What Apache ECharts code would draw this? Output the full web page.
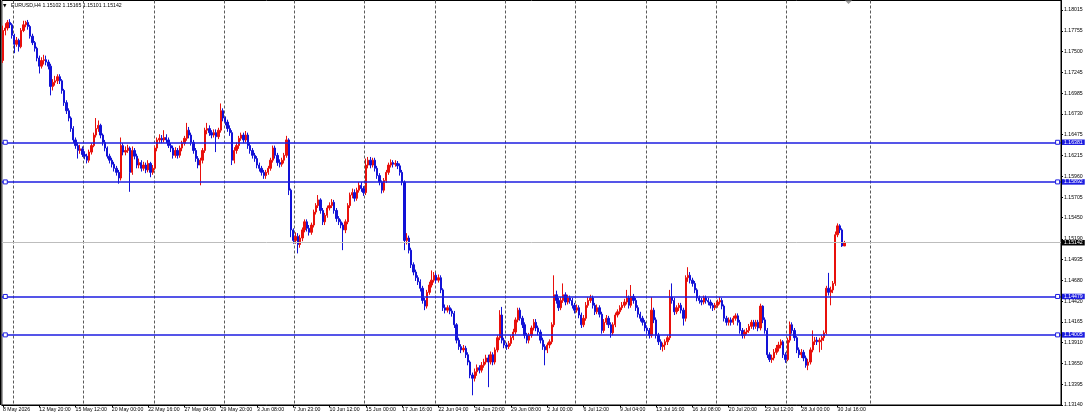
<!DOCTYPE html>
<html><head><meta charset="utf-8">
<script src="https://cdn.jsdelivr.net/npm/echarts@6/dist/echarts.min.js"></script>
<style>html,body{margin:0;padding:0;background:#fff}#c{width:1089px;height:415px}</style>
</head><body><div id="c"></div>
<script>
const symbolName = 'EURUSD,H4';
const lastBar = { open: 1.15102, high: 1.15165, low: 1.15101, close: 1.15142 };
const firstOpen = 1.1739;

const closes = [
1.1776,1.1779,1.1786,1.1783,1.1770,1.1759,1.1764,1.1756,1.1776,1.1783,
1.1786,1.1781,1.1769,1.1761,1.1754,1.1742,1.1732,1.1739,1.1740,1.1737,
1.1732,1.1707,1.1712,1.1714,1.1719,1.1714,1.1702,1.1687,1.1677,1.1668,
1.1655,1.1641,1.1634,1.1628,1.1630,1.1623,1.1621,1.1616,1.1626,1.1634,
1.1647,1.1655,1.1659,1.1647,1.1638,1.1631,1.1621,1.1616,1.1611,1.1606,
1.1601,1.1594,1.1634,1.1626,1.1628,1.1631,1.1601,1.1628,1.1621,1.1610,
1.1613,1.1606,1.1610,1.1604,1.1612,1.1601,1.1606,1.1631,1.1641,1.1643,
1.1641,1.1644,1.1641,1.1634,1.1631,1.1622,1.1628,1.1622,1.1631,1.1637,
1.1643,1.1653,1.1647,1.1638,1.1628,1.1618,1.1610,1.1616,1.1628,1.1653,
1.1655,1.1650,1.1647,1.1650,1.1645,1.1653,1.1677,1.1668,1.1663,1.1655,
1.1650,1.1616,1.1628,1.1634,1.1643,1.1647,1.1641,1.1647,1.1634,1.1628,
1.1622,1.1618,1.1610,1.1606,1.1601,1.1597,1.1601,1.1606,1.1616,1.1631,
1.1622,1.1613,1.1611,1.1616,1.1622,1.1641,1.1579,1.1530,1.1517,1.1522,
1.1512,1.1520,1.1530,1.1540,1.1532,1.1527,1.1536,1.1552,1.1560,1.1567,
1.1554,1.1540,1.1548,1.1557,1.1560,1.1564,1.1554,1.1544,1.1540,1.1536,
1.1530,1.1540,1.1560,1.1573,1.1576,1.1569,1.1579,1.1585,1.1581,1.1576,
1.1610,1.1616,1.1610,1.1616,1.1606,1.1597,1.1589,1.1579,1.1591,1.1601,
1.1610,1.1613,1.1611,1.1612,1.1609,1.1601,1.1589,1.1517,1.1520,1.1505,
1.1487,1.1478,1.1471,1.1466,1.1458,1.1443,1.1436,1.1453,1.1462,1.1468,
1.1474,1.1468,1.1471,1.1456,1.1434,1.1431,1.1434,1.1430,1.1427,1.1413,
1.1394,1.1386,1.1382,1.1384,1.1376,1.1367,1.1351,1.1347,1.1355,1.1360,
1.1357,1.1363,1.1367,1.1372,1.1367,1.1376,1.1367,1.1382,1.1397,1.1425,
1.1394,1.1388,1.1386,1.1390,1.1397,1.1404,1.1419,1.1431,1.1421,1.1413,
1.1400,1.1394,1.1400,1.1409,1.1416,1.1409,1.1404,1.1394,1.1386,1.1382,
1.1388,1.1392,1.1413,1.1450,1.1443,1.1434,1.1443,1.1450,1.1441,1.1446,
1.1443,1.1437,1.1431,1.1434,1.1425,1.1413,1.1421,1.1437,1.1443,1.1446,
1.1437,1.1429,1.1434,1.1426,1.1406,1.1416,1.1421,1.1413,1.1403,1.1413,
1.1425,1.1429,1.1434,1.1437,1.1441,1.1446,1.1437,1.1448,1.1443,1.1434,
1.1426,1.1421,1.1416,1.1409,1.1406,1.1400,1.1431,1.1419,1.1400,1.1392,
1.1386,1.1388,1.1392,1.1397,1.1447,1.1443,1.1429,1.1434,1.1437,1.1431,
1.1421,1.1471,1.1474,1.1468,1.1464,1.1456,1.1446,1.1443,1.1441,1.1446,
1.1443,1.1441,1.1437,1.1434,1.1437,1.1441,1.1443,1.1436,1.1421,1.1416,
1.1419,1.1416,1.1421,1.1424,1.1416,1.1406,1.1400,1.1404,1.1406,1.1411,
1.1416,1.1411,1.1416,1.1409,1.1436,1.1419,1.1406,1.1376,1.1370,1.1372,
1.1379,1.1384,1.1388,1.1392,1.1376,1.1370,1.1394,1.1413,1.1406,1.1397,
1.1382,1.1376,1.1379,1.1372,1.1363,1.1367,1.1382,1.1392,1.1394,1.1392,
1.1394,1.1397,1.1403,1.1458,1.1453,1.1456,1.1464,1.1524,1.1535,1.1530,
1.15102,1.15142
];

const highs = [
1.1782,1.1785,1.1789,1.1790,1.1785,1.1772,1.1768,1.1766,1.1779,1.1788,
1.1788,1.1789,1.1783,1.1772,1.1763,1.1756,1.1745,1.1743,1.1746,1.1745,
1.1740,1.1735,1.1716,1.1720,1.1722,1.1722,1.1716,1.1704,1.1690,1.1680,
1.1670,1.1658,1.1644,1.1638,1.1635,1.1633,1.1627,1.1624,1.1629,1.1637,
1.1650,1.1668,1.1665,1.1661,1.1649,1.1641,1.1633,1.1624,1.1619,1.1614,
1.1609,1.1604,1.1644,1.1637,1.1633,1.1635,1.1633,1.1633,1.1631,1.1624,
1.1618,1.1616,1.1614,1.1613,1.1616,1.1614,1.1610,1.1634,1.1644,1.1648,
1.1647,1.1653,1.1648,1.1644,1.1637,1.1634,1.1632,1.1631,1.1634,1.1640,
1.1646,1.1662,1.1657,1.1650,1.1641,1.1631,1.1621,1.1619,1.1631,1.1656,
1.1662,1.1659,1.1653,1.1654,1.1654,1.1656,1.1686,1.1680,1.1670,1.1666,
1.1659,1.1653,1.1632,1.1638,1.1646,1.1650,1.1650,1.1652,1.1650,1.1638,
1.1631,1.1625,1.1621,1.1613,1.1609,1.1604,1.1604,1.1609,1.1619,1.1634,
1.1634,1.1625,1.1617,1.1619,1.1625,1.1646,1.1643,1.1581,1.1532,1.1527,
1.1526,1.1524,1.1533,1.1543,1.1543,1.1536,1.1539,1.1555,1.1563,1.1573,
1.1569,1.1557,1.1551,1.1560,1.1564,1.1568,1.1567,1.1557,1.1547,1.1543,
1.1539,1.1543,1.1563,1.1576,1.1581,1.1580,1.1582,1.1589,1.1589,1.1584,
1.1618,1.1620,1.1620,1.1619,1.1619,1.1609,1.1600,1.1591,1.1594,1.1604,
1.1613,1.1617,1.1616,1.1616,1.1615,1.1612,1.1604,1.1591,1.1526,1.1523,
1.1508,1.1490,1.1481,1.1474,1.1469,1.1461,1.1446,1.1456,1.1466,1.1480,
1.1478,1.1477,1.1475,1.1474,1.1458,1.1438,1.1437,1.1437,1.1433,1.1430,
1.1415,1.1397,1.1389,1.1388,1.1387,1.1379,1.1369,1.1354,1.1359,1.1364,
1.1363,1.1367,1.1371,1.1376,1.1376,1.1380,1.1379,1.1385,1.1400,1.1431,
1.1435,1.1397,1.1391,1.1393,1.1400,1.1408,1.1422,1.1434,1.1434,1.1424,
1.1416,1.1403,1.1403,1.1412,1.1420,1.1420,1.1412,1.1407,1.1397,1.1389,
1.1391,1.1395,1.1416,1.1474,1.1455,1.1446,1.1447,1.1464,1.1453,1.1450,
1.1449,1.1446,1.1440,1.1438,1.1437,1.1428,1.1425,1.1441,1.1447,1.1450,
1.1449,1.1440,1.1438,1.1437,1.1429,1.1420,1.1425,1.1424,1.1416,1.1416,
1.1428,1.1432,1.1437,1.1441,1.1445,1.1456,1.1449,1.1462,1.1451,1.1446,
1.1437,1.1429,1.1424,1.1419,1.1412,1.1409,1.1447,1.1434,1.1422,1.1403,
1.1395,1.1391,1.1395,1.1400,1.1456,1.1464,1.1446,1.1437,1.1440,1.1440,
1.1434,1.1474,1.1484,1.1478,1.1471,1.1467,1.1458,1.1449,1.1446,1.1449,
1.1449,1.1446,1.1444,1.1440,1.1440,1.1444,1.1447,1.1446,1.1438,1.1424,
1.1422,1.1422,1.1424,1.1427,1.1427,1.1419,1.1409,1.1407,1.1409,1.1414,
1.1419,1.1419,1.1419,1.1419,1.1439,1.1437,1.1422,1.1409,1.1379,1.1376,
1.1383,1.1388,1.1392,1.1395,1.1394,1.1379,1.1397,1.1417,1.1416,1.1409,
1.1399,1.1385,1.1383,1.1382,1.1375,1.1371,1.1385,1.1406,1.1398,1.1398,
1.1397,1.1400,1.1406,1.1461,1.1477,1.1460,1.1467,1.1528,1.1538,1.1537,
1.1532,1.15165
];

const lows = [
1.1736,1.1770,1.1776,1.1779,1.1766,1.1748,1.1756,1.1750,1.1754,1.1774,
1.1780,1.1777,1.1766,1.1758,1.1750,1.1738,1.1723,1.1729,1.1734,1.1733,
1.1728,1.1696,1.1702,1.1708,1.1710,1.1710,1.1698,1.1683,1.1673,1.1664,
1.1651,1.1637,1.1630,1.1618,1.1624,1.1620,1.1617,1.1612,1.1613,1.1623,
1.1632,1.1644,1.1651,1.1643,1.1634,1.1627,1.1618,1.1612,1.1607,1.1602,
1.1597,1.1587,1.1591,1.1622,1.1622,1.1625,1.1577,1.1598,1.1617,1.1606,
1.1606,1.1602,1.1603,1.1600,1.1601,1.1595,1.1598,1.1604,1.1627,1.1637,
1.1637,1.1638,1.1637,1.1631,1.1626,1.1618,1.1619,1.1618,1.1619,1.1627,
1.1634,1.1640,1.1643,1.1634,1.1624,1.1614,1.1606,1.1585,1.1612,1.1625,
1.1648,1.1646,1.1643,1.1644,1.1626,1.1642,1.1650,1.1664,1.1659,1.1651,
1.1646,1.1610,1.1612,1.1624,1.1630,1.1640,1.1637,1.1638,1.1630,1.1624,
1.1618,1.1614,1.1606,1.1602,1.1597,1.1593,1.1593,1.1598,1.1603,1.1613,
1.1618,1.1609,1.1607,1.1608,1.1612,1.1619,1.1573,1.1521,1.1513,1.1513,
1.1501,1.1508,1.1516,1.1527,1.1528,1.1523,1.1524,1.1533,1.1549,1.1557,
1.1550,1.1536,1.1536,1.1545,1.1554,1.1557,1.1550,1.1540,1.1536,1.1532,
1.1505,1.1526,1.1537,1.1557,1.1569,1.1565,1.1566,1.1576,1.1577,1.1572,
1.1573,1.1606,1.1606,1.1607,1.1602,1.1593,1.1585,1.1575,1.1576,1.1588,
1.1598,1.1607,1.1607,1.1608,1.1605,1.1597,1.1585,1.1505,1.1512,1.1501,
1.1483,1.1474,1.1467,1.1462,1.1454,1.1439,1.1431,1.1433,1.1450,1.1459,
1.1465,1.1464,1.1465,1.1452,1.1430,1.1427,1.1428,1.1426,1.1423,1.1409,
1.1390,1.1382,1.1378,1.1379,1.1372,1.1363,1.1347,1.1326,1.1343,1.1350,
1.1353,1.1354,1.1360,1.1364,1.1336,1.1364,1.1363,1.1364,1.1379,1.1394,
1.1390,1.1384,1.1382,1.1383,1.1387,1.1394,1.1401,1.1416,1.1418,1.1409,
1.1396,1.1390,1.1390,1.1397,1.1406,1.1405,1.1400,1.1390,1.1382,1.1363,
1.1378,1.1384,1.1389,1.1410,1.1439,1.1430,1.1431,1.1440,1.1437,1.1438,
1.1439,1.1433,1.1427,1.1428,1.1421,1.1409,1.1410,1.1418,1.1434,1.1440,
1.1433,1.1425,1.1426,1.1422,1.1402,1.1403,1.1413,1.1409,1.1397,1.1400,
1.1410,1.1422,1.1426,1.1431,1.1434,1.1438,1.1433,1.1434,1.1439,1.1430,
1.1422,1.1417,1.1412,1.1405,1.1402,1.1396,1.1397,1.1415,1.1396,1.1388,
1.1382,1.1380,1.1382,1.1388,1.1394,1.1439,1.1425,1.1426,1.1430,1.1427,
1.1412,1.1417,1.1466,1.1464,1.1460,1.1452,1.1442,1.1439,1.1437,1.1438,
1.1439,1.1437,1.1433,1.1430,1.1431,1.1434,1.1438,1.1432,1.1417,1.1412,
1.1412,1.1412,1.1413,1.1418,1.1412,1.1402,1.1396,1.1396,1.1401,1.1403,
1.1408,1.1407,1.1408,1.1405,1.1406,1.1415,1.1402,1.1372,1.1367,1.1366,
1.1369,1.1376,1.1380,1.1384,1.1372,1.1366,1.1368,1.1391,1.1402,1.1393,
1.1378,1.1372,1.1372,1.1368,1.1360,1.1357,1.1364,1.1379,1.1388,1.1388,
1.1379,1.1382,1.1393,1.1401,1.1449,1.1437,1.1452,1.1461,1.1521,1.1526,
1.1509,1.15101
];

const xTickLabels = ['8 May 2026','12 May 20:00','15 May 12:00','20 May 00:00','22 May 16:00','27 May 04:00',
  '29 May 20:00','3 Jun 08:00','7 Jun 23:00','10 Jun 12:00','15 Jun 00:00','17 Jun 16:00','22 Jun 04:00',
  '24 Jun 20:00','29 Jun 08:00','2 Jul 00:00','6 Jul 12:00','9 Jul 04:00','13 Jul 16:00','16 Jul 08:00',
  '20 Jul 20:00','23 Jul 12:00','28 Jul 00:00','30 Jul 16:00'];
const yTickValues = [1.18015,1.17755,1.17500,1.17245,1.16985,1.16730,1.16475,1.16215,1.15960,1.15705,
  1.15450,1.15190,1.14935,1.14680,1.14420,1.14165,1.13910,1.13650,1.13395,1.13140];
const levelLines = [1.16381, 1.15892, 1.14479, 1.14005];
const bidPrice = lastBar.close;

// layout constants (not data)
const BARS_PER_LABEL = 16;
const SLOTS = 467;
const Y_MIN = 1.13140, Y_MAX = 1.18130;
const UP = '#e8100c', DOWN = '#1212d6', LINE_BLUE = '#1d1de0';
const FONT = 'Liberation Sans, Arial, sans-serif';
const FS = 5.2;

const candles = closes.map((c, i) => {
  const o = i === 0 ? firstOpen : closes[i - 1];
  return [o, c, lows[i], highs[i]];
});
const slots = Array.from({ length: SLOTS }, (_, i) => i);
const isLabelIdx = (i) => i % BARS_PER_LABEL === 0 && i / BARS_PER_LABEL < xTickLabels.length;
const isGridIdx = (i) => (i >= 5 && (i - 5) % 31 === 0 && i < 370) || i === 383;

const markPts = [];
levelLines.forEach(v => { markPts.push({ coord: [1, v] }); markPts.push({ coord: [465, v] }); });

const chart = echarts.init(document.getElementById('c'), null, { renderer: 'canvas' });
chart.setOption({
  animation: false,
  backgroundColor: '#fff',
  textStyle: { fontFamily: FONT },
  grid: { left: -0.3, right: 28, top: 0.5, bottom: 10, show: true, borderColor: '#000', borderWidth: 1, backgroundColor: 'transparent' },
  graphic: [
    { type: 'text', left: 3, top: 3, style: { text: '▼', fontSize: 4.5, fill: '#000', fontFamily: 'DejaVu Sans' } },
    { type: 'text', left: 11, top: 2.6, style: { text: symbolName + ' ' + [lastBar.open, lastBar.high, lastBar.low, lastBar.close].map(v => v.toFixed(5)).join(' '), fontSize: FS, fill: '#000', fontFamily: FONT } },
    { type: 'polygon', shape: { points: [[845, 0.5], [852, 0.5], [848.5, 4]] }, style: { fill: '#9a9a9a' } },
    { type: 'line', shape: { x1: 0.5, y1: 0, x2: 0.5, y2: 405 }, style: { stroke: '#000', lineWidth: 1 } }
  ],
  xAxis: {
    type: 'category', data: slots, boundaryGap: true,
    axisLine: { show: true, lineStyle: { color: '#000', width: 1 } },
    axisTick: { show: true, alignWithLabel: true, interval: isLabelIdx, length: 2.5, lineStyle: { color: '#000' } },
    axisLabel: {
      interval: isLabelIdx, formatter: (v, idx) => xTickLabels[Math.round(idx / BARS_PER_LABEL)] || '',
      fontSize: FS, color: '#000', align: 'left', margin: 2, fontFamily: FONT
    },
    splitLine: { show: true, interval: isGridIdx, lineStyle: { color: '#5a5a5a', width: 1, type: [3, 2] } }
  },
  yAxis: {
    type: 'value', position: 'right', min: Y_MIN, max: Y_MAX, scale: true,
    axisLine: { show: true, lineStyle: { color: '#000', width: 1 } },
    axisTick: { show: true, customValues: yTickValues, length: 2, lineStyle: { color: '#000' } },
    axisLabel: { customValues: yTickValues, formatter: v => v.toFixed(5), fontSize: FS, color: '#000', margin: 3, fontFamily: FONT },
    splitLine: { show: false }
  },
  series: [{
    type: 'candlestick',
    data: candles,
    barWidth: 1.8,
    itemStyle: { color: UP, color0: DOWN, borderColor: UP, borderColor0: DOWN, borderWidth: 1 },
    markLine: {
      silent: true, symbol: ['none', 'none'], animation: false, precision: 5,
      data: [
        {
          yAxis: bidPrice, lineStyle: { color: '#bdbdbd', width: 1, type: 'solid' },
          label: { show: true, position: 'end', distance: 1, formatter: p => p.value.toFixed(5), color: '#fff', backgroundColor: '#000', fontSize: FS, padding: [0.5, 2, 0, 2], fontFamily: FONT }
        }
      ].concat(levelLines.map(v => ({
        yAxis: v, lineStyle: { color: LINE_BLUE, width: 1.6, type: 'solid' },
        label: { show: true, position: 'end', distance: 1, formatter: p => p.value.toFixed(5), color: '#fff', backgroundColor: LINE_BLUE, fontSize: FS, padding: [0.5, 2, 0, 2], fontFamily: FONT }
      })))
    },
    markPoint: {
      silent: true, symbol: 'rect', symbolSize: 4, animation: false,
      itemStyle: { color: '#fff', borderColor: LINE_BLUE, borderWidth: 1 },
      label: { show: false },
      data: markPts
    }
  }]
});
</script>
</body></html>
